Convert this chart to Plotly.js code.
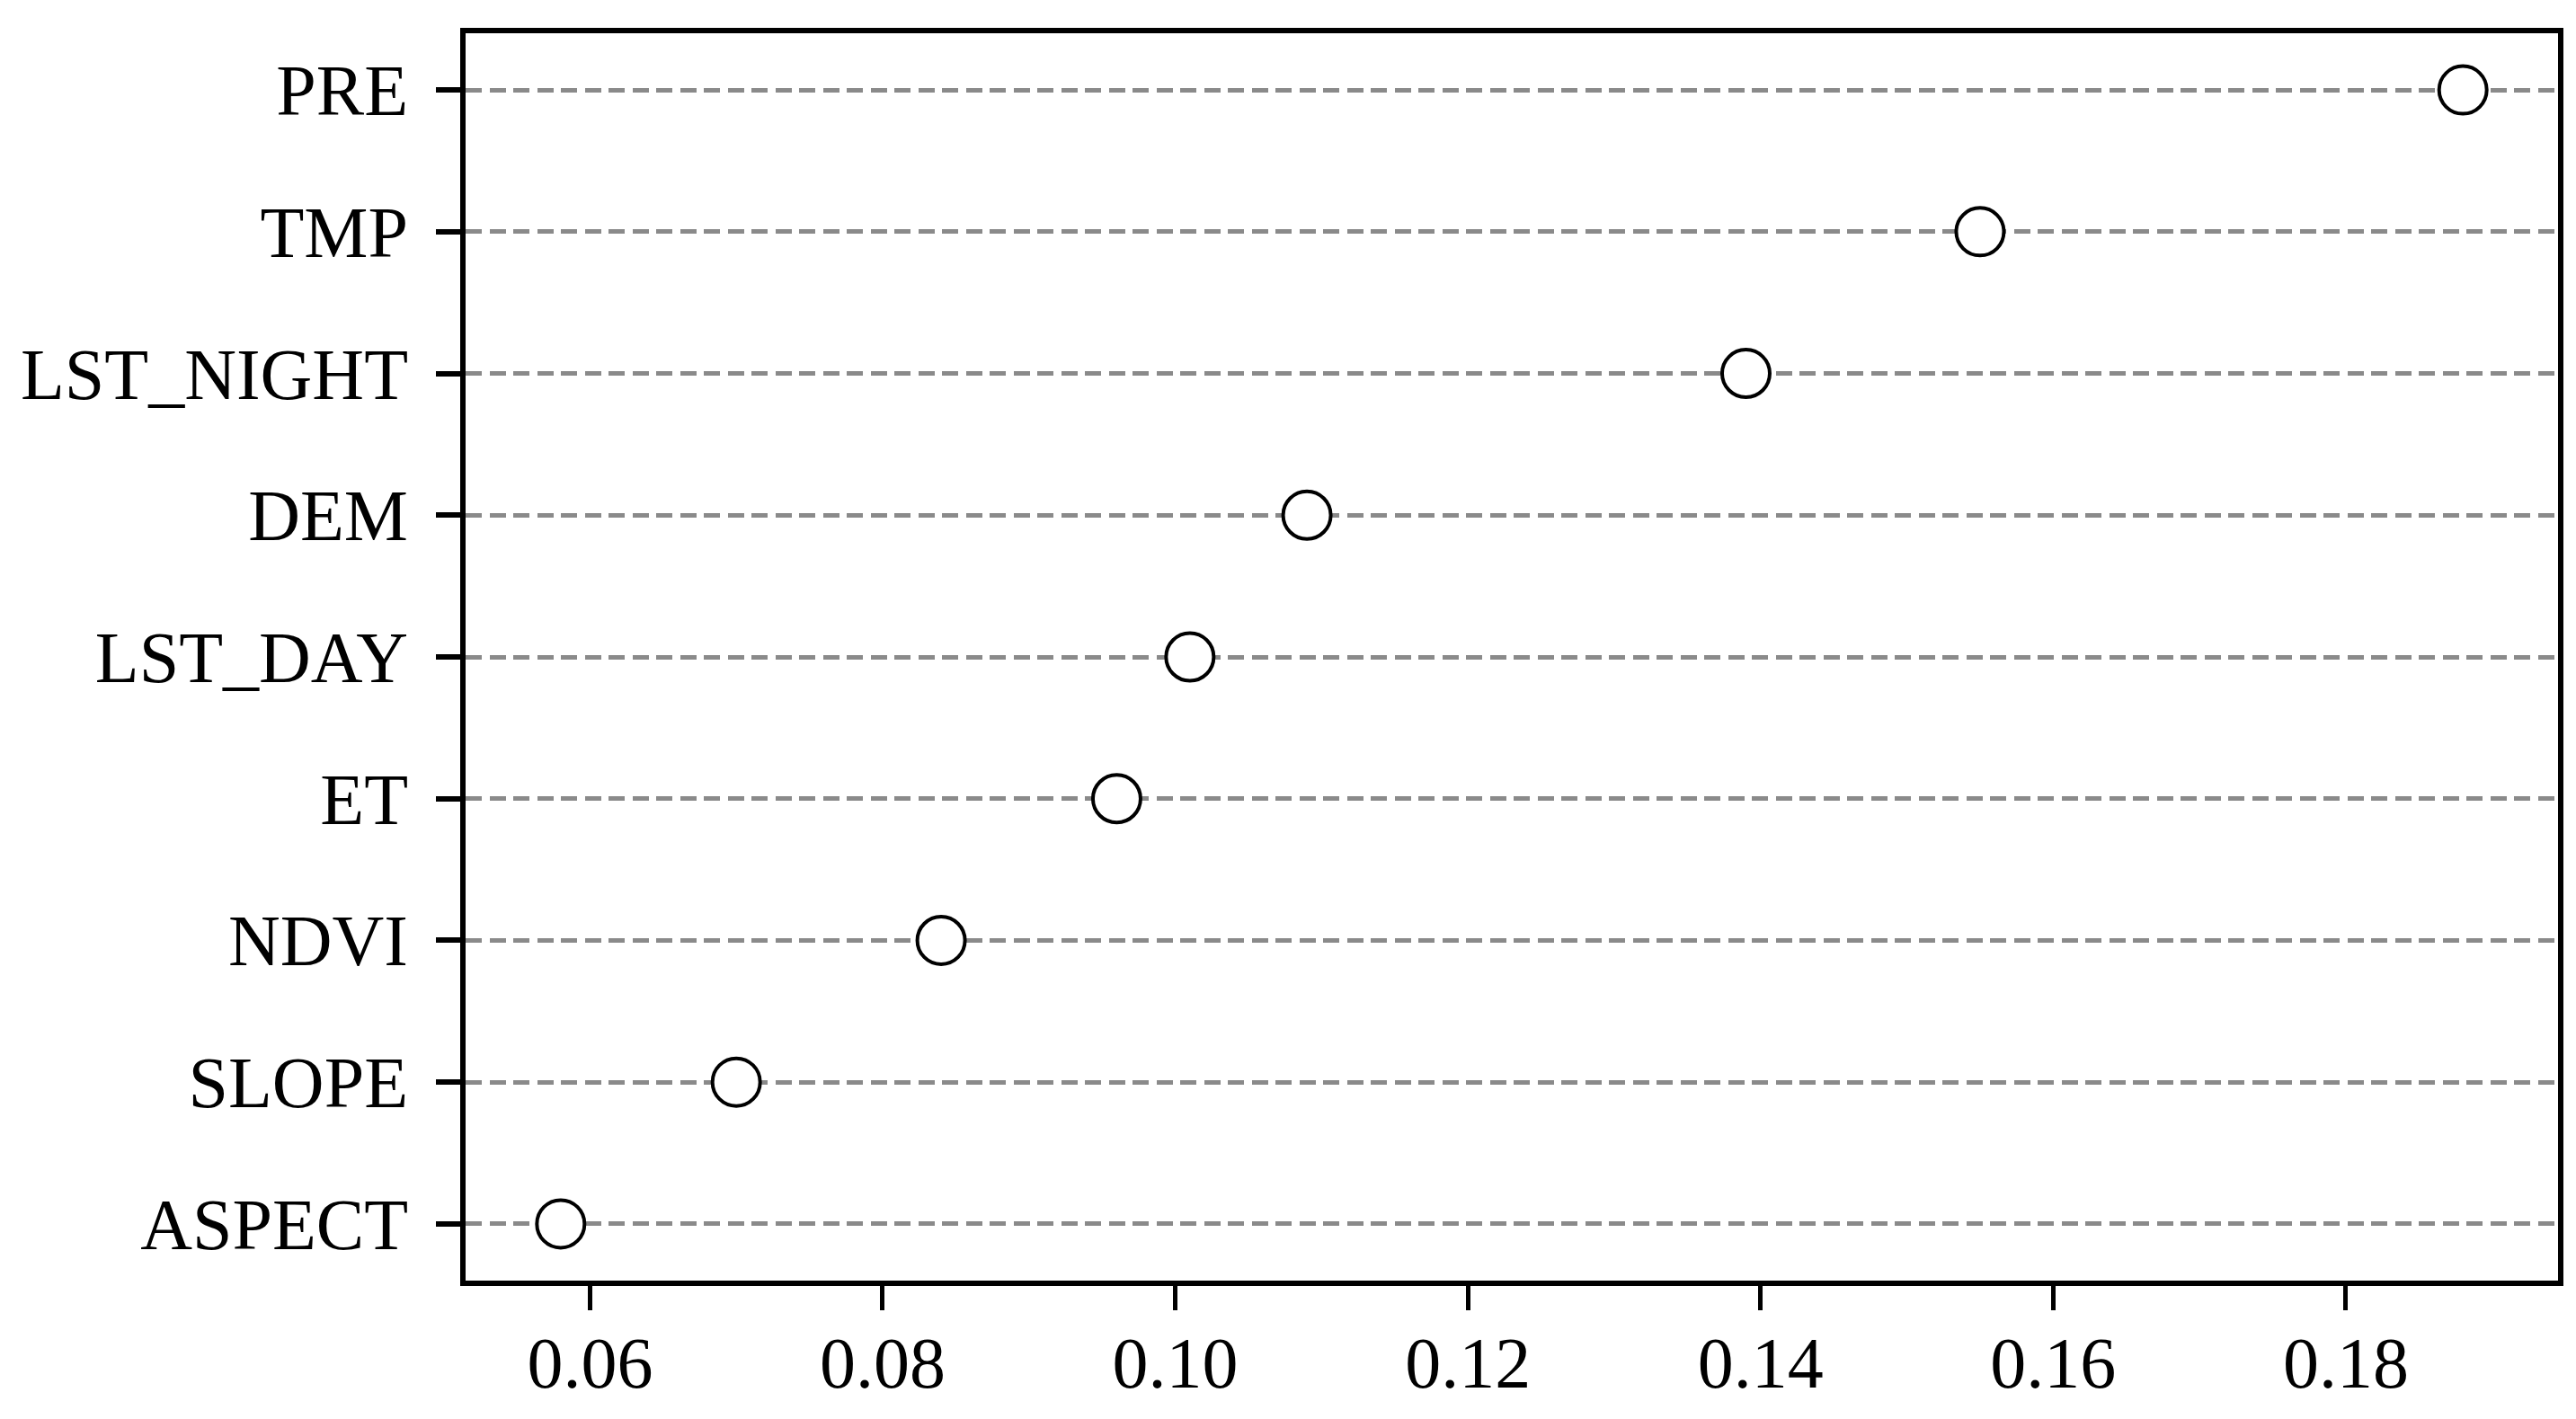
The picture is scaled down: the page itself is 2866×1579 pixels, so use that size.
<!DOCTYPE html>
<html>
<head>
<meta charset="utf-8">
<script src="https://cdn.plot.ly/plotly-3.0.1.min.js"></script>
<style>html,body{margin:0;padding:0;background:#fff;}</style>
</head>
<body>
<div id="chart" style="width:2866px;height:1579px;"></div>
<script>
const features = ["PRE", "TMP", "LST_NIGHT", "DEM", "LST_DAY", "ET", "NDVI", "SLOPE", "ASPECT"];
const importance = [0.188, 0.155, 0.139, 0.109, 0.101, 0.096, 0.084, 0.070, 0.058];
const xTickValues = [0.06, 0.08, 0.10, 0.12, 0.14, 0.16, 0.18];
const xTickLabels = ["0.06", "0.08", "0.10", "0.12", "0.14", "0.16", "0.18"];

const font = {family: "Liberation Serif, Times New Roman, serif", size: 80, color: "#000"};

const trace = {
  type: "scatter",
  mode: "markers",
  x: importance,
  y: features,
  marker: {symbol: "circle", size: 53, color: "#fff", line: {color: "#000", width: 4}},
  hoverinfo: "skip",
  cliponaxis: false
};

const layout = {
  width: 2866,
  height: 1579,
  margin: {l: 518, r: 20, t: 37, b: 154, pad: 0},
  paper_bgcolor: "#fff",
  plot_bgcolor: "#fff",
  showlegend: false,
  font: font,
  xaxis: {
    range: [0.0515, 0.1945],
    tickmode: "array",
    tickvals: xTickValues,
    ticktext: xTickLabels,
    ticks: "outside",
    ticklen: 27,
    tickwidth: 5,
    tickcolor: "#000",
    showgrid: false,
    zeroline: false,
    showline: true,
    linecolor: "#000",
    linewidth: 6,
    mirror: true,
    tickfont: font,
    ticklabelstandoff: -10
  },
  yaxis: {
    type: "category",
    categoryorder: "array",
    categoryarray: features,
    range: [8.4, -0.4],
    ticks: "outside",
    ticklen: 27,
    tickwidth: 6,
    tickcolor: "#000",
    showgrid: true,
    gridcolor: "#8a8a8a",
    gridwidth: 5,
    griddash: "18px,8.5px",
    zeroline: false,
    showline: true,
    linecolor: "#000",
    linewidth: 6,
    mirror: true,
    tickfont: font,
    ticklabelstandoff: 15
  }
};

Plotly.newPlot("chart", [trace], layout, {staticPlot: true, displayModeBar: false});
</script>
</body>
</html>
